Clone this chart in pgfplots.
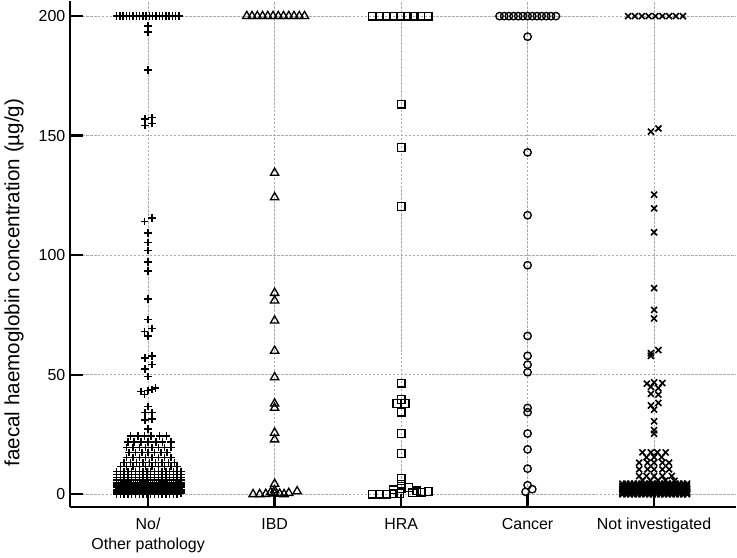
\documentclass[border=0pt]{standalone}
\usepackage{pgfplots}
\pgfplotsset{compat=1.18}
\usepackage{fontspec}
\setmainfont{Liberation Sans}
\begin{document}
\begin{tikzpicture}
\begin{axis}[
  scale only axis, width=501.4pt, height=380.8pt,
  xmin=-0.618, xmax=4.646, ymin=-5.3, ymax=206.25,
  axis x line*=bottom, axis y line*=left,
  axis line style={line width=1.8pt, black},
  xtick={0,1,2,3,4},
  xticklabels={{No/\\Other pathology},IBD,HRA,Cancer,Not investigated},
  xticklabel style={align=center, yshift=-5pt, font=\fontsize{12}{15}\selectfont},
  ytick={0,50,100,150,200},
  yticklabel style={font=\fontsize{12}{14.5}\selectfont},
  /pgf/number format/assume math mode=true,
  tick align=inside,
  major tick length=9.5pt,
  major tick style={line width=1.8pt, black},
  grid=major,
  major grid style={gray!65, line width=0.5pt, dash pattern=on 2pt off 1pt},
  ylabel={faecal haemoglobin concentration (µg/g)},
  ylabel style={at={(axis description cs:-0.084,0.4436)}, anchor=center, font=\fontsize{15.5}{18}\selectfont},
  clip=false,
]
% No / Other pathology
\addplot[only marks, mark=+, mark size=2.8pt, black, line width=1.1pt] coordinates {
(-0.250,200)(-0.224,200)(-0.198,200)(-0.172,200)(-0.146,200)(-0.120,200)(-0.094,200)(-0.068,200)(-0.042,200)(-0.016,200)(0.010,200)(0.036,200)(0.062,200)(0.088,200)(0.114,200)(0.140,200)(0.166,200)(0.192,200)(0.218,200)(0.244,200)
(0,195.8)(0,193.3)(0,177.5)(-0.025,157)(-0.025,154.2)(0.03,157.6)(0.03,155.1)
(-0.03,114.2)(0.03,115.5)(0,109.3)(0,105.3)(0,102)(0,97.2)(0,93.3)(0,81.7)(0,73.2)(-0.03,68)(0.03,69.4)(0,66.2)
(-0.025,57)(0.03,57.9)(-0.025,52.4)(0.03,54.2)(0,49.3)
(-0.055,43)(-0.03,41.7)(0,43.3)(0.03,43.75)(0.06,44.4)
(0,36.8)(-0.025,34.2)(0.03,34.2)(-0.025,31)(0.03,31.5)(0,27.3)
(-0.139,24.3)(-0.081,24.3)(-0.029,24.3)(0.024,24.3)(0.089,24.3)(0.147,24.3)
(-0.16,21.8)(-0.11,21.8)(-0.055,21.8)(0,21.8)(0.063,21.8)(0.115,21.8)(0.181,21.8)
(-0.17,19.5)(-0.12,19.5)(-0.07,19.5)(-0.02,19.5)(0.03,19.5)(0.08,19.5)(0.13,19.5)(0.18,19.5)
(-0.15,17.4)(-0.1,17.4)(-0.05,17.4)(0,17.4)(0.05,17.4)(0.1,17.4)(0.15,17.4)
(-0.17,15.4)(-0.12,15.4)(-0.07,15.4)(-0.02,15.4)(0.03,15.4)(0.08,15.4)(0.13,15.4)(0.18,15.4)
(-0.19,13.3)(-0.14,13.3)(-0.09,13.3)(-0.04,13.3)(0.01,13.3)(0.06,13.3)(0.11,13.3)(0.16,13.3)(0.21,13.3)
(-0.22,11.5)(-0.17,11.5)(-0.12,11.5)(-0.07,11.5)(-0.02,11.5)(0.03,11.5)(0.08,11.5)(0.13,11.5)(0.18,11.5)(0.23,11.5)
(-0.25,9.6)(-0.22,9.6)(-0.19,9.6)(-0.16,9.6)(-0.13,9.6)(-0.10,9.6)(-0.07,9.6)(-0.04,9.6)(-0.01,9.6)(0.02,9.6)(0.05,9.6)(0.08,9.6)(0.11,9.6)(0.14,9.6)(0.17,9.6)(0.20,9.6)(0.23,9.6)(0.26,9.6)
(-0.25,8.3)(-0.22,8.3)(-0.19,8.3)(-0.16,8.3)(-0.13,8.3)(-0.10,8.3)(-0.07,8.3)(-0.04,8.3)(-0.01,8.3)(0.02,8.3)(0.05,8.3)(0.08,8.3)(0.11,8.3)(0.14,8.3)(0.17,8.3)(0.20,8.3)(0.23,8.3)(0.26,8.3)
(-0.25,7)(-0.22,7)(-0.19,7)(-0.16,7)(-0.13,7)(-0.10,7)(-0.07,7)(-0.04,7)(-0.01,7)(0.02,7)(0.05,7)(0.08,7)(0.11,7)(0.14,7)(0.17,7)(0.20,7)(0.23,7)(0.26,7)
(-0.25,6)(-0.22,6)(-0.19,6)(-0.16,6)(-0.13,6)(-0.10,6)(-0.07,6)(-0.04,6)(-0.01,6)(0.02,6)(0.05,6)(0.08,6)(0.11,6)(0.14,6)(0.17,6)(0.20,6)(0.23,6)(0.26,6)
(-0.25,5)(-0.22,5)(-0.19,5)(-0.16,5)(-0.13,5)(-0.10,5)(-0.07,5)(-0.04,5)(-0.01,5)(0.02,5)(0.05,5)(0.08,5)(0.11,5)(0.14,5)(0.17,5)(0.20,5)(0.23,5)(0.26,5)
(-0.25,4.2)(-0.22,4.2)(-0.19,4.2)(-0.16,4.2)(-0.13,4.2)(-0.10,4.2)(-0.07,4.2)(-0.04,4.2)(-0.01,4.2)(0.02,4.2)(0.05,4.2)(0.08,4.2)(0.11,4.2)(0.14,4.2)(0.17,4.2)(0.20,4.2)(0.23,4.2)(0.26,4.2)
(-0.235,3.8)(-0.205,3.8)(-0.175,3.8)(-0.145,3.8)(-0.115,3.8)(-0.085,3.8)(-0.055,3.8)(-0.025,3.8)(0.005,3.8)(0.035,3.8)(0.065,3.8)(0.095,3.8)(0.125,3.8)(0.155,3.8)(0.185,3.8)(0.215,3.8)(0.245,3.8)
(-0.25,3.4)(-0.22,3.4)(-0.19,3.4)(-0.16,3.4)(-0.13,3.4)(-0.10,3.4)(-0.07,3.4)(-0.04,3.4)(-0.01,3.4)(0.02,3.4)(0.05,3.4)(0.08,3.4)(0.11,3.4)(0.14,3.4)(0.17,3.4)(0.20,3.4)(0.23,3.4)(0.26,3.4)
(-0.235,3.0)(-0.205,3.0)(-0.175,3.0)(-0.145,3.0)(-0.115,3.0)(-0.085,3.0)(-0.055,3.0)(-0.025,3.0)(0.005,3.0)(0.035,3.0)(0.065,3.0)(0.095,3.0)(0.125,3.0)(0.155,3.0)(0.185,3.0)(0.215,3.0)(0.245,3.0)
(-0.25,2.7)(-0.22,2.7)(-0.19,2.7)(-0.16,2.7)(-0.13,2.7)(-0.10,2.7)(-0.07,2.7)(-0.04,2.7)(-0.01,2.7)(0.02,2.7)(0.05,2.7)(0.08,2.7)(0.11,2.7)(0.14,2.7)(0.17,2.7)(0.20,2.7)(0.23,2.7)(0.26,2.7)
(-0.235,2.3)(-0.205,2.3)(-0.175,2.3)(-0.145,2.3)(-0.115,2.3)(-0.085,2.3)(-0.055,2.3)(-0.025,2.3)(0.005,2.3)(0.035,2.3)(0.065,2.3)(0.095,2.3)(0.125,2.3)(0.155,2.3)(0.185,2.3)(0.215,2.3)(0.245,2.3)
(-0.25,2)(-0.22,2)(-0.19,2)(-0.16,2)(-0.13,2)(-0.10,2)(-0.07,2)(-0.04,2)(-0.01,2)(0.02,2)(0.05,2)(0.08,2)(0.11,2)(0.14,2)(0.17,2)(0.20,2)(0.23,2)(0.26,2)
(-0.235,1.7)(-0.205,1.7)(-0.175,1.7)(-0.145,1.7)(-0.115,1.7)(-0.085,1.7)(-0.055,1.7)(-0.025,1.7)(0.005,1.7)(0.035,1.7)(0.065,1.7)(0.095,1.7)(0.125,1.7)(0.155,1.7)(0.185,1.7)(0.215,1.7)(0.245,1.7)
(-0.25,1.4)(-0.22,1.4)(-0.19,1.4)(-0.16,1.4)(-0.13,1.4)(-0.10,1.4)(-0.07,1.4)(-0.04,1.4)(-0.01,1.4)(0.02,1.4)(0.05,1.4)(0.08,1.4)(0.11,1.4)(0.14,1.4)(0.17,1.4)(0.20,1.4)(0.23,1.4)(0.26,1.4)
(-0.235,1.1)(-0.205,1.1)(-0.175,1.1)(-0.145,1.1)(-0.115,1.1)(-0.085,1.1)(-0.055,1.1)(-0.025,1.1)(0.005,1.1)(0.035,1.1)(0.065,1.1)(0.095,1.1)(0.125,1.1)(0.155,1.1)(0.185,1.1)(0.215,1.1)(0.245,1.1)
(-0.25,0.8)(-0.22,0.8)(-0.19,0.8)(-0.16,0.8)(-0.13,0.8)(-0.10,0.8)(-0.07,0.8)(-0.04,0.8)(-0.01,0.8)(0.02,0.8)(0.05,0.8)(0.08,0.8)(0.11,0.8)(0.14,0.8)(0.17,0.8)(0.20,0.8)(0.23,0.8)(0.26,0.8)
(-0.25,0.3)(-0.22,0.3)(-0.19,0.3)(-0.16,0.3)(-0.13,0.3)(-0.10,0.3)(-0.07,0.3)(-0.04,0.3)(-0.01,0.3)(0.02,0.3)(0.05,0.3)(0.08,0.3)(0.11,0.3)(0.14,0.3)(0.17,0.3)(0.20,0.3)(0.23,0.3)(0.26,0.3)
(-0.25,0)(-0.22,0)(-0.19,0)(-0.16,0)(-0.13,0)(-0.10,0)(-0.07,0)(-0.04,0)(-0.01,0)(0.02,0)(0.05,0)(0.08,0)(0.11,0)(0.14,0)(0.17,0)(0.20,0)(0.23,0)
};
% IBD
\addplot[only marks, mark=triangle, mark size=3.6pt, black, line width=1.0pt] coordinates {
(0.780,200)(0.8215,200)(0.863,200)(0.9045,200)(0.946,200)(0.9875,200)(1.029,200)(1.0705,200)(1.112,200)(1.1535,200)(1.195,200)(1.2365,200)
(1,134.4)(1,124.2)(1,84.2)(1,81)(1,72.6)(1,60)(1,48.9)(1,37.9)(1,36.1)(1,25.7)(1,22.9)
(0.83,0)(0.882,0)(0.93,0.1)(0.969,0.8)(1,0.3)(1,1.6)(1,4.3)(1.04,0.2)(1.075,0)(1.112,0.5)(1.178,1.2)
};
% HRA
\addplot[only marks, mark=square, mark size=2.9pt, black, line width=1.0pt] coordinates {
(1.772,200)(1.827,200)(1.882,200)(1.937,200)(1.992,200)(2.047,200)(2.102,200)(2.157,200)(2.213,200)
(2,163.2)(2,145.1)(2,120.4)(2,46.5)(2,39.6)(1.966,37.9)(2.032,37.9)(2,34.3)(2,25.4)(2,17.1)(2,6.5)(2,4.2)
(1.94,1.8)(2,2.4)(2.058,2.8)(2.124,1.4)
(1.772,0)(1.827,0)(1.882,0)(1.937,0.2)(1.99,0.3)(2.09,0.6)(2.165,0.9)(2.215,1.2)
};
% Cancer
\addplot[only marks, mark=o, mark size=2.8pt, black, line width=1.0pt] coordinates {
(2.778,200)(2.815,200)(2.852,200)(2.889,200)(2.926,200)(2.963,200)(3.000,200)(3.037,200)(3.074,200)(3.111,200)(3.148,200)(3.185,200)(3.224,200)
(3,191.4)(3,143)(3,116.7)(3,95.8)(3,66.2)(3,57.9)(3,54.2)(3,51)(3,36.1)(3,34.3)(3,25.4)(3,18.75)(3,10.7)(3,3.75)(2.984,1.0)(3.037,2.1)
};
% Not investigated
\addplot[only marks, mark=x, mark size=3.2pt, black, line width=1.2pt] coordinates {
(3.795,200)(3.849,200)(3.903,200)(3.957,200)(4.011,200)(4.065,200)(4.119,200)(4.173,200)(4.228,200)
(3.975,151.7)(4.034,153)(4,125.3)(4,119.6)(4,109.6)(4,86.2)(4,77.1)(4,73.5)(3.975,59)(4.034,60.3)(3.975,57.9)
(3.943,46.25)(4,46.8)(4.065,46.5)(3.975,44.9)(4.034,44.4)(3.975,42)(4.034,41.7)(3.975,37.1)(4.034,38.2)(4,35.4)(4,30.5)(4,26.8)(4,25.3)
(3.908,17.5)(3.974,17.5)(4.026,17.5)(4.092,17.5)
(3.94,15.5)(4,15.5)(4.06,15.5)
(3.882,13.2)(3.948,13.2)(4,13.2)(4.066,13.2)(4.118,13.2)
(3.882,10.4)(3.948,10.4)(4,10.4)(4.066,10.4)(4.118,10.4)
(3.882,7.6)(3.94,7.6)(4,7.6)(4.066,7.6)(4.14,7.6)
(3.91,5.8)(3.97,5.8)(4.03,5.8)(4.09,5.8)(4.16,5.6)
(3.75,4.4)(3.78,4.4)(3.81,4.4)(3.84,4.4)(3.87,4.4)(3.90,4.4)(3.93,4.4)(3.96,4.4)(3.99,4.4)(4.02,4.4)(4.05,4.4)(4.08,4.4)(4.11,4.4)(4.14,4.4)(4.17,4.4)(4.20,4.4)(4.23,4.4)(4.26,4.4)
(3.75,3.6)(3.78,3.6)(3.81,3.6)(3.84,3.6)(3.87,3.6)(3.90,3.6)(3.93,3.6)(3.96,3.6)(3.99,3.6)(4.02,3.6)(4.05,3.6)(4.08,3.6)(4.11,3.6)(4.14,3.6)(4.17,3.6)(4.20,3.6)(4.23,3.6)(4.26,3.6)
(3.75,2.9)(3.78,2.9)(3.81,2.9)(3.84,2.9)(3.87,2.9)(3.90,2.9)(3.93,2.9)(3.96,2.9)(3.99,2.9)(4.02,2.9)(4.05,2.9)(4.08,2.9)(4.11,2.9)(4.14,2.9)(4.17,2.9)(4.20,2.9)(4.23,2.9)(4.26,2.9)
(3.75,2.2)(3.78,2.2)(3.81,2.2)(3.84,2.2)(3.87,2.2)(3.90,2.2)(3.93,2.2)(3.96,2.2)(3.99,2.2)(4.02,2.2)(4.05,2.2)(4.08,2.2)(4.11,2.2)(4.14,2.2)(4.17,2.2)(4.20,2.2)(4.23,2.2)(4.26,2.2)
(3.75,1.6)(3.78,1.6)(3.81,1.6)(3.84,1.6)(3.87,1.6)(3.90,1.6)(3.93,1.6)(3.96,1.6)(3.99,1.6)(4.02,1.6)(4.05,1.6)(4.08,1.6)(4.11,1.6)(4.14,1.6)(4.17,1.6)(4.20,1.6)(4.23,1.6)(4.26,1.6)
(3.75,1.0)(3.78,1.0)(3.81,1.0)(3.84,1.0)(3.87,1.0)(3.90,1.0)(3.93,1.0)(3.96,1.0)(3.99,1.0)(4.02,1.0)(4.05,1.0)(4.08,1.0)(4.11,1.0)(4.14,1.0)(4.17,1.0)(4.20,1.0)(4.23,1.0)(4.26,1.0)
(3.75,0.5)(3.78,0.5)(3.81,0.5)(3.84,0.5)(3.87,0.5)(3.90,0.5)(3.93,0.5)(3.96,0.5)(3.99,0.5)(4.02,0.5)(4.05,0.5)(4.08,0.5)(4.11,0.5)(4.14,0.5)(4.17,0.5)(4.20,0.5)(4.23,0.5)(4.26,0.5)
(3.75,0)(3.78,0)(3.81,0)(3.84,0)(3.87,0)(3.90,0)(3.93,0)(3.96,0)(3.99,0)(4.02,0)(4.05,0)(4.08,0)(4.11,0)(4.14,0)(4.17,0)(4.20,0)(4.23,0)(4.26,0)
};
\end{axis}
\end{tikzpicture}
\end{document}
